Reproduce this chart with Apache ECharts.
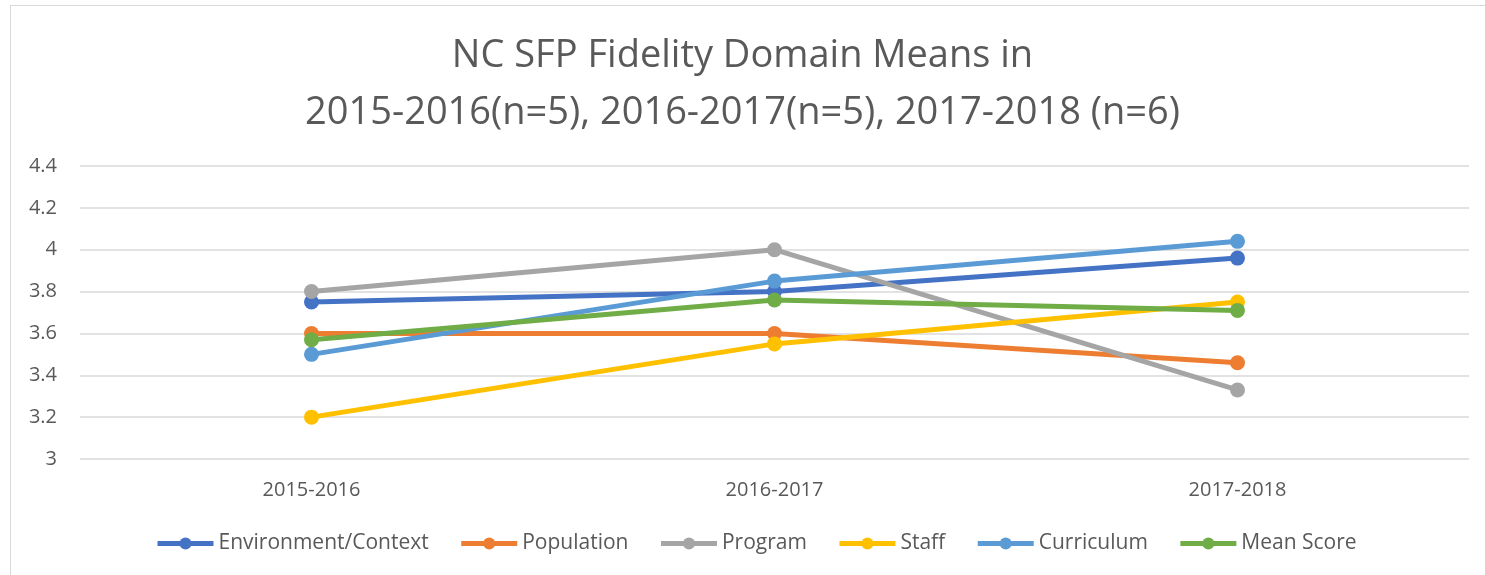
<!DOCTYPE html>
<html>
<head>
<meta charset="utf-8">
<script src="https://cdn.jsdelivr.net/npm/echarts@6/dist/echarts.min.js"></script>
<style>
html,body{margin:0;padding:0;background:#fff;}
#frame{position:absolute;left:10px;top:5px;width:1490px;height:580px;border:1px solid #d9d9d9;}
#chartDom{position:absolute;left:0;top:0;width:1485px;height:575px;}
</style>
</head>
<body>
<div id="frame"></div>
<div id="chartDom"></div>
<script>
var categories = ['2015-2016', '2016-2017', '2017-2018'];
var environment = [3.75, 3.80, 3.96];
var population = [3.60, 3.60, 3.46];
var program = [3.80, 4.00, 3.33];
var staff = [3.20, 3.55, 3.75];
var curriculum = [3.50, 3.85, 4.04];
var meanScore = [3.57, 3.76, 3.71];
var yTicks = [3, 3.2, 3.4, 3.6, 3.8, 4, 4.2, 4.4];

var seriesList = [
  {name: 'Environment/Context', data: environment, color: '#4472C4'},
  {name: 'Population', data: population, color: '#ED7D31'},
  {name: 'Program', data: program, color: '#A5A5A5'},
  {name: 'Staff', data: staff, color: '#FFC000'},
  {name: 'Curriculum', data: curriculum, color: '#5B9BD5'},
  {name: 'Mean Score', data: meanScore, color: '#70AD47'}
];

var myChart = echarts.init(document.getElementById('chartDom'));
var option = {
  animation: false,
  title: {
    text: 'NC SFP Fidelity Domain Means in\n2015-2016(n=5), 2016-2017(n=5), 2017-2018 (n=6)',
    left: 'center',
    top: 23,
    textStyle: {
      fontFamily: 'Open Sans',
      fontWeight: 'normal',
      fontSize: 38,
      lineHeight: 57,
      color: '#595959'
    }
  },
  legend: {
    bottom: 16,
    left: 150,
    itemGap: 30,
    itemWidth: 56,
    itemHeight: 15,
    lineStyle: {width: 5},
    textStyle: {fontFamily: 'Open Sans', fontSize: 21, color: '#595959'},
    data: seriesList.map(function (s) { return s.name; })
  },
  grid: {left: 80, right: 16, top: 166, bottom: 116},
  xAxis: {
    type: 'category',
    data: categories,
    boundaryGap: true,
    axisLine: {show: false},
    axisTick: {show: false},
    axisLabel: {fontFamily: 'Open Sans', fontSize: 20, color: '#595959', margin: 21}
  },
  yAxis: {
    type: 'value',
    min: yTicks[0],
    max: yTicks[yTicks.length - 1],
    interval: 0.2,
    axisLine: {show: false},
    axisTick: {show: false},
    splitLine: {lineStyle: {color: '#d9d9d9', width: 1.5}},
    axisLabel: {
      fontFamily: 'Open Sans', fontSize: 20, color: '#595959', margin: 23,
      formatter: function (v) { return String(Math.round(v * 10) / 10); }
    }
  },
  series: seriesList.map(function (s) {
    return {
      name: s.name,
      type: 'line',
      data: s.data,
      symbol: 'circle',
      symbolSize: 15,
      itemStyle: {color: s.color},
      lineStyle: {color: s.color, width: 5}
    };
  })
};
option && myChart.setOption(option);
window.addEventListener('resize', function () { myChart.resize(); });
</script>
</body>
</html>
